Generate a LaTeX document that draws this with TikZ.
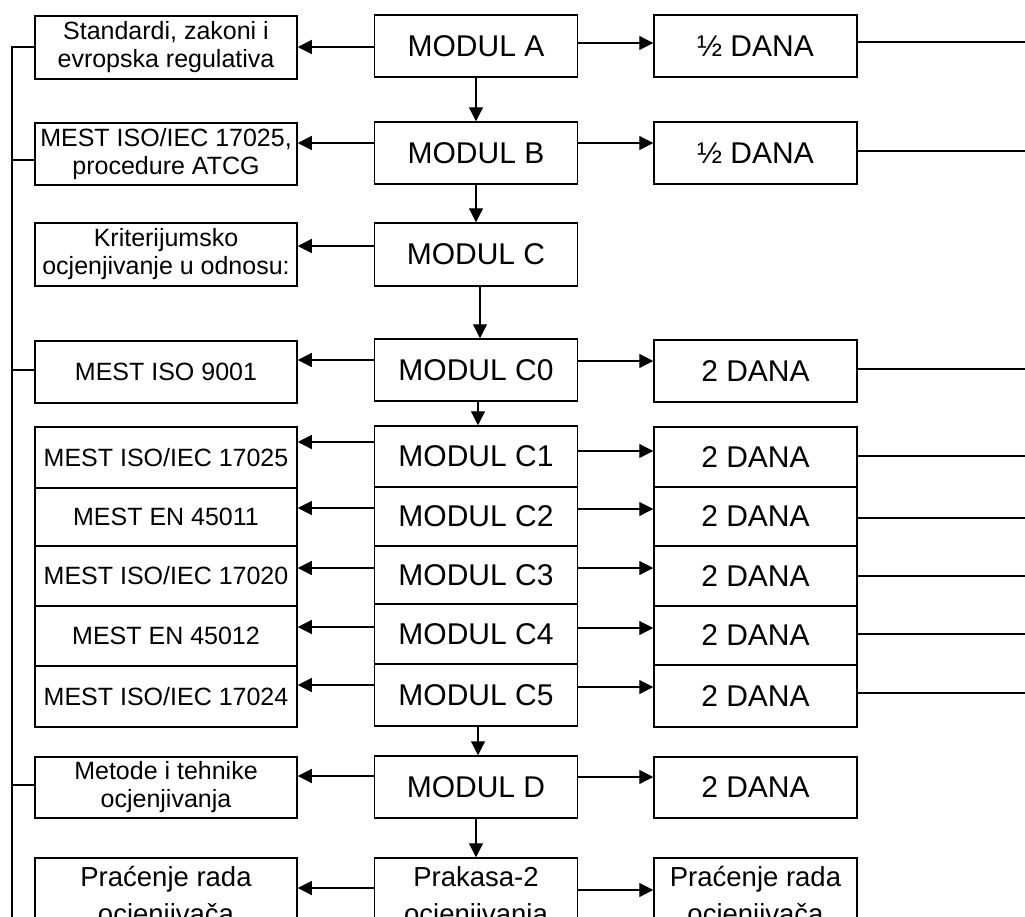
\documentclass[tikz,border=0pt]{standalone}
\usepackage{fontspec}
\setmainfont{Liberation Sans}
\usetikzlibrary{arrows.meta}
\begin{document}
\begin{tikzpicture}[x=1pt,y=-1pt,
  bx/.style={draw,line width=1.5pt,inner sep=0pt,align=center},
  lbx/.style={bx,minimum width=262pt,font=\fontsize{25}{28}\selectfont},
  mbx/.style={bx,minimum width=203pt,font=\fontsize{30}{34}\selectfont},
  pbx/.style={bx,minimum width=#1,font=\fontsize{27.5}{37}\selectfont},
  arr/.style={line width=1.2pt,-{Triangle[length=14pt,width=14pt]}},
  ln/.style={line width=1.1pt}]
\useasboundingbox (0,0) rectangle (1025,916);
\clip (0,0) rectangle (1025,916);
\fill[white] (0,0) rectangle (1025,916);
% left column
\node[lbx,minimum height=63pt] (lA) at (166,47.5) {Standardi, zakoni i\\evropska regulativa};
\node[lbx,minimum height=62pt] (lB) at (166,154) {MEST ISO/IEC 17025,\\procedure ATCG};
\node[lbx,minimum height=63pt] (lC) at (166,254.5) {Kriterijumsko\\ocjenjivanje u odnosu:};
\node[lbx,minimum height=62pt] (l0) at (166,372) {MEST ISO 9001};
\node[lbx,minimum height=61pt] (l1) at (166,457.5) {MEST ISO/IEC 17025};
\node[lbx,minimum height=58pt] (l2) at (166,517) {MEST EN 45011};
\node[lbx,minimum height=60pt] (l3) at (166,576) {MEST ISO/IEC 17020};
\node[lbx,minimum height=60pt] (l4) at (166,636) {MEST EN 45012};
\node[lbx,minimum height=61pt] (l5) at (166,696.5) {MEST ISO/IEC 17024};
\node[lbx,minimum height=61pt] (lD) at (166,787.5) {Metode i tehnike\\ocjenjivanja};
\node[pbx=262pt,minimum height=80pt] (lP) at (166,898) {Praćenje rada\\ocjenjivača};
% middle column
\node[mbx,minimum height=62pt] (mA) at (476,46) {MODUL A};
\node[mbx,minimum height=62pt] (mB) at (476,153) {MODUL B};
\node[mbx,minimum height=63pt] (mC) at (476,254.5) {MODUL C};
\node[mbx,minimum height=62pt] (m0) at (476,370) {MODUL C0};
\node[mbx,minimum height=61pt] (m1) at (476,456.5) {MODUL C1};
\node[mbx,minimum height=59pt] (m2) at (476,516.5) {MODUL C2};
\node[mbx,minimum height=58pt] (m3) at (476,575) {MODUL C3};
\node[mbx,minimum height=60pt] (m4) at (476,634) {MODUL C4};
\node[mbx,minimum height=62pt] (m5) at (476,695) {MODUL C5};
\node[mbx,minimum height=62pt] (mD) at (476,787) {MODUL D};
\node[pbx=203pt,minimum height=80pt] (mP) at (476,898) {Prakasa-2\\ocjenjivanja};
% right column
\node[mbx,minimum height=62pt] (rA) at (755.5,46) {½ DANA};
\node[mbx,minimum height=62pt] (rB) at (755.5,153) {½ DANA};
\node[mbx,minimum height=62pt] (r0) at (755.5,371) {2 DANA};
\node[mbx,minimum height=60pt] (r1) at (755.5,457) {2 DANA};
\node[mbx,minimum height=59pt] (r2) at (755.5,516.5) {2 DANA};
\node[mbx,minimum height=60pt] (r3) at (755.5,576) {2 DANA};
\node[mbx,minimum height=59pt] (r4) at (755.5,635.5) {2 DANA};
\node[mbx,minimum height=62pt] (r5) at (755.5,696) {2 DANA};
\node[mbx,minimum height=61pt] (rD) at (755.5,787.5) {2 DANA};
\node[pbx=203pt,minimum height=80pt] (rP) at (755.5,898) {Praćenje rada\\ocjenjivača};
% vertical flow
\draw[arr] (mA.south -| 476,0) -- (mB.north -| 476,0);
\draw[arr] (mB.south -| 476,0) -- (mC.north -| 476,0);
\draw[arr] (mC.south -| 480,0) -- (m0.north -| 480,0);
\draw[arr] (m0.south -| 478,0) -- (m1.north -| 478,0);
\draw[arr] (m5.south -| 478,0) -- (mD.north -| 478,0);
\draw[arr] (mD.south -| 476,0) -- (mP.north -| 476,0);
% arrows to the right
\draw[arr] (mA.east |- 0,43) -- (rA.west |- 0,43);
\draw[arr] (mB.east |- 0,143) -- (rB.west |- 0,143);
\draw[arr] (m0.east |- 0,361) -- (r0.west |- 0,361);
\draw[arr] (m1.east |- 0,451) -- (r1.west |- 0,451);
\draw[arr] (m2.east |- 0,509) -- (r2.west |- 0,509);
\draw[arr] (m3.east |- 0,568) -- (r3.west |- 0,568);
\draw[arr] (m4.east |- 0,628) -- (r4.west |- 0,628);
\draw[arr] (m5.east |- 0,687) -- (r5.west |- 0,687);
\draw[arr] (mD.east |- 0,777) -- (rD.west |- 0,777);
\draw[arr] (mP.east |- 0,890) -- (rP.west |- 0,890);
% arrows to the left
\draw[arr] (mA.west |- 0,47) -- (lA.east |- 0,47);
\draw[arr] (mB.west |- 0,143) -- (lB.east |- 0,143);
\draw[arr] (mC.west |- 0,246) -- (lC.east |- 0,246);
\draw[arr] (m0.west |- 0,360) -- (l0.east |- 0,360);
\draw[arr] (m1.west |- 0,442) -- (l1.east |- 0,442);
\draw[arr] (m2.west |- 0,508) -- (l2.east |- 0,508);
\draw[arr] (m3.west |- 0,568) -- (l3.east |- 0,568);
\draw[arr] (m4.west |- 0,627) -- (l4.east |- 0,627);
\draw[arr] (m5.west |- 0,685) -- (l5.east |- 0,685);
\draw[arr] (mD.west |- 0,776) -- (lD.east |- 0,776);
\draw[arr] (mP.west |- 0,888) -- (lP.east |- 0,888);
% lines to the right edge
\coordinate (edge) at (1025,0);
\draw[ln] (rA.east |- 0,42) -- (edge |- 0,42);
\draw[ln] (rB.east |- 0,151) -- (edge |- 0,151);
\draw[ln] (r0.east |- 0,369) -- (edge |- 0,369);
\draw[ln] (r1.east |- 0,456) -- (edge |- 0,456);
\draw[ln] (r2.east |- 0,518) -- (edge |- 0,518);
\draw[ln] (r3.east |- 0,576) -- (edge |- 0,576);
\draw[ln] (r4.east |- 0,634) -- (edge |- 0,634);
\draw[ln] (r5.east |- 0,693) -- (edge |- 0,693);
% left bus
\coordinate (bustop) at (12,47);
\coordinate (busbot) at (12,930);
\draw[ln] (lA.west |- bustop) -- (bustop) -- (busbot);
\draw[ln] (lB.west |- 0,160) -- (bustop |- 0,160);
\draw[ln] (l0.west |- 0,370) -- (bustop |- 0,370);
\draw[ln] (lD.west |- 0,785) -- (bustop |- 0,785);
\end{tikzpicture}
\end{document}
